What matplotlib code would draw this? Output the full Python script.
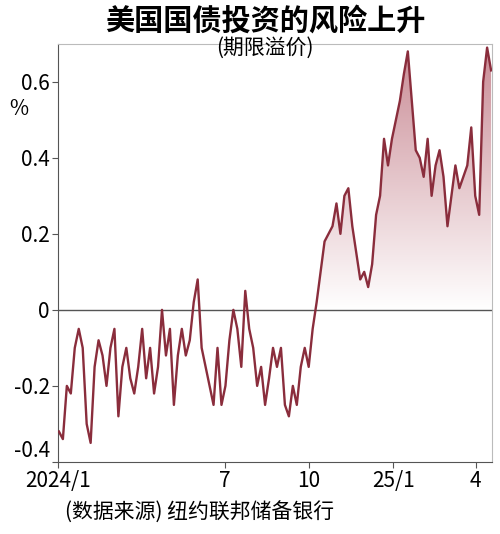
import matplotlib
matplotlib.use("Agg")
import matplotlib.pyplot as plt
import numpy as np
import pandas as pd
from matplotlib.colors import LinearSegmentedColormap
from matplotlib.path import Path

plt.rcParams['font.family'] = ['Noto Sans CJK SC', 'DejaVu Sans']

values = [-0.32,-0.34,-0.2,-0.22,-0.1,-0.05,-0.1,-0.3,-0.35,-0.15,-0.08,-0.12,-0.2,-0.1,-0.05,-0.28,
          -0.15,-0.1,-0.18,-0.22,-0.15,-0.05,-0.18,-0.1,-0.22,-0.15,0.0,-0.12,-0.05,-0.25,-0.12,-0.05,
          -0.12,-0.08,0.02,0.08,-0.1,-0.15,-0.2,-0.25,-0.1,-0.25,-0.2,-0.08,0.0,-0.05,-0.15,0.05,-0.05,
          -0.1,-0.2,-0.15,-0.25,-0.18,-0.1,-0.15,-0.1,-0.25,-0.28,-0.2,-0.25,-0.15,-0.1,-0.15,-0.05,
          0.02,0.1,0.18,0.2,0.22,0.28,0.2,0.3,0.32,0.22,0.15,0.08,0.1,0.06,0.12,0.25,0.3,0.45,0.38,
          0.45,0.5,0.55,0.62,0.68,0.55,0.42,0.4,0.35,0.45,0.3,0.38,0.42,0.35,0.22,0.3,0.38,0.32,0.35,
          0.38,0.48,0.3,0.25,0.6,0.69,0.63]
dates = pd.date_range("2024-01-02", "2025-04-18", periods=len(values))
tick_dates = pd.to_datetime(["2024-01-01", "2024-07-01", "2024-10-01", "2025-01-01", "2025-04-01"])
tick_labels = ["2024/1", "7", "10", "25/1", "4"]
yticks = [-0.4, -0.2, 0, 0.2, 0.4, 0.6]
ylabels = ["-0.4", "-0.2", "0", "0.2", "0.4", "0.6"]

fig = plt.figure(figsize=(5, 5.34), dpi=100)
ax = fig.add_axes([0.116, 0.135, 0.868, 0.783])
x = matplotlib.dates.date2num(dates)
y = np.array(values)
ax.set_xlim(x[0] - 1, x[-1] + 1)
ax.set_ylim(-0.4, 0.7)

cmap = LinearSegmentedColormap.from_list("g", ["#ffffff", "#c98a94"])
grad = np.linspace(0, 1, 256).reshape(-1, 1)
im = ax.imshow(grad, cmap=cmap, aspect='auto', origin='lower',
               extent=[x[0], x[-1], 0, 0.7], zorder=1)
poly = ax.fill_between(x, y, 0, where=y > 0, interpolate=True, color='none')
verts, codes = [], []
for p in poly.get_paths():
    verts.extend(p.vertices)
    codes.extend(p.codes if p.codes is not None else [Path.MOVETO] + [Path.LINETO]*(len(p.vertices)-1))
im.set_clip_path(Path(verts, codes), transform=ax.transData)

ax.axhline(0, color='#555555', lw=1, zorder=2)
ax.plot(x, y, color='#8a2d3c', lw=1.7, zorder=3)

for s in ax.spines.values():
    s.set_color('#bbbbbb'); s.set_linewidth(0.8)
ax.spines['left'].set_color('#555555')
ax.spines['bottom'].set_color('#555555')
ax.set_yticks(yticks)
ax.set_yticklabels(ylabels, fontsize=15)
ax.get_yticklabels()[0].set_va('bottom')
ax.set_xticks(matplotlib.dates.date2num(tick_dates))
ax.set_xticklabels(tick_labels, fontsize=15)
ax.tick_params(length=4, color='#555555', pad=2)
ax.text(-0.09, 0.83, "%", transform=ax.transAxes, fontsize=15, ha='center')

fig.text(0.53, 0.962, "美国国债投资的风险上升", fontsize=21, fontweight='bold', ha='center', va='center')
fig.text(0.53, 0.91, "(期限溢价)", fontsize=15, ha='center', va='center')
fig.text(0.13, 0.04, "(数据来源) 纽约联邦储备银行", fontsize=15, ha='left', va='center')
fig.savefig("out.png")
